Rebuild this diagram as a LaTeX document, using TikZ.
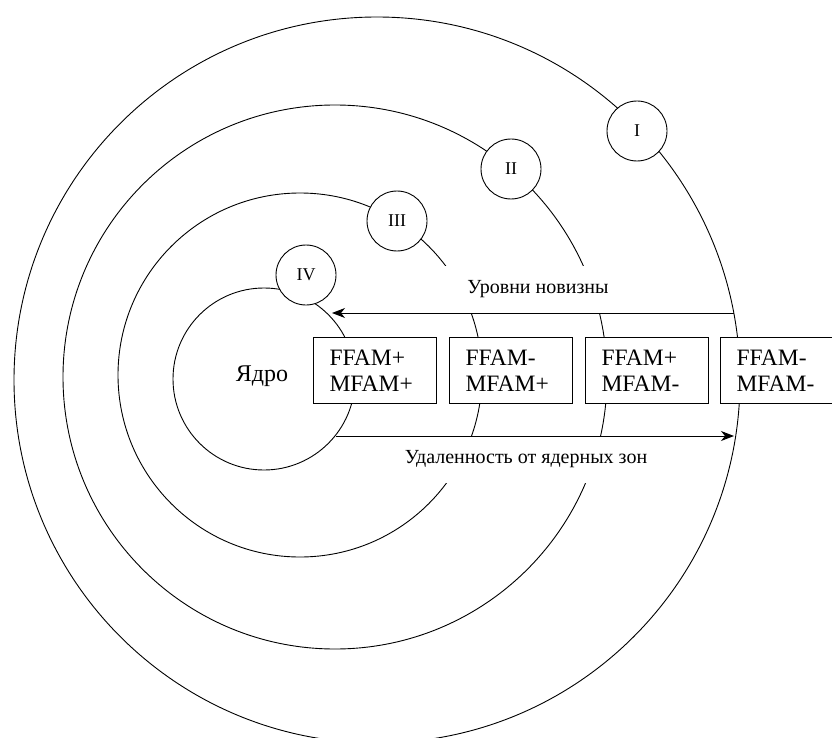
\documentclass[tikz,border=0pt]{standalone}
\usepackage{fontspec}
\setmainfont{Liberation Serif}
\usetikzlibrary{positioning,arrows.meta}

\tikzset{
  ring/.style={draw, line width=0.9pt},
  levelmark/.style={draw, circle, fill=white, line width=0.9pt, minimum size=60pt, inner sep=0pt, font=\fontsize{18}{18}\selectfont},
  famcell/.style={draw, fill=white, line width=1pt, align=left, text width=91pt, inner xsep=16pt, minimum height=66pt, font=\fontsize{23.5}{26}\selectfont},
  caption/.style={fill=white, minimum height=47pt, inner xsep=14pt, font=\fontsize{20}{20}\selectfont},
  axis/.style={line width=1pt, -{Stealth[length=13pt, width=10pt, inset=4pt]}},
}

\begin{document}
\begin{tikzpicture}[x=1pt, y=-1pt]
  \useasboundingbox (0,0) rectangle (832,738);
  \clip (0,0) rectangle (832,738);

  % zones
  \draw[ring] (377,380) circle (363pt);
  \draw[ring] (335,377) circle (272pt);
  \draw[ring] (300,375) circle (182pt);
  \draw[ring] (264,379) circle (91pt);

  % zone numbers
  \node[levelmark] (lvlI)   at (637,131) {I};
  \node[levelmark] (lvlII)  at (511,169) {II};
  \node[levelmark] (lvlIII) at (397,221) {III};
  \node[levelmark] (lvlIV)  at (306,275) {IV};

  \node[font=\fontsize{24}{24}\selectfont] (core) at (262,376) {Ядро};

  % captions
  \node[caption, minimum width=230pt] (novelty)  at (538,289.5) {Уровни новизны};
  \node[caption] (distance) at (526,459.5) {Удаленность от ядерных зон};

  % FFAM / MFAM cells
  \node[famcell, anchor=north west] (cell1) at (313,337) {FFAM+\\MFAM+};
  \node[famcell, right=12pt of cell1] (cell2) {FFAM-\\MFAM+};
  \node[famcell, right=12pt of cell2] (cell3) {FFAM+\\MFAM-};
  \node[famcell, right=11pt of cell3] (cell4) {FFAM-\\MFAM-};

  % axes
  \coordinate (novR)  at (734,313);
  \coordinate (novL)  at (332,313);
  \coordinate (distL) at (336,436);
  \coordinate (distR) at (734,436);
  \draw[axis] (novR) -- (novL);
  \draw[axis] (distL) -- (distR);
\end{tikzpicture}
\end{document}
